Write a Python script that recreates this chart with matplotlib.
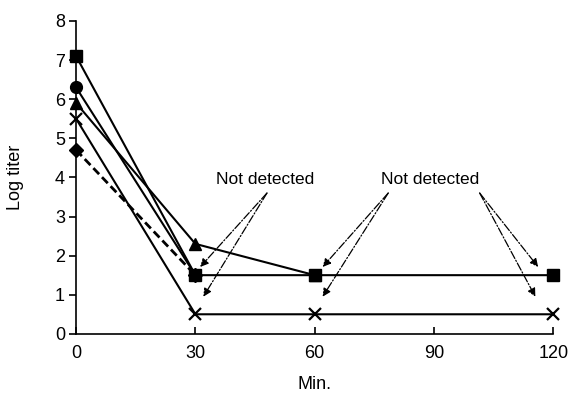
import matplotlib.pyplot as plt

plt.rcParams['font.family'] = ['Liberation Sans', 'DejaVu Sans']

# time points (min) and log titers per series
t_square = [0, 30, 60, 120]
v_square = [7.1, 1.5, 1.5, 1.5]
t_circle = [0, 30]
v_circle = [6.3, 1.5]
t_triangle = [0, 30, 60]
v_triangle = [5.9, 2.3, 1.5]
t_cross = [0, 30, 60, 120]
v_cross = [5.5, 0.5, 0.5, 0.5]
t_diamond = [0, 30]
v_diamond = [4.7, 1.5]

x_ticks = [0, 30, 60, 90, 120]
y_ticks = [0, 1, 2, 3, 4, 5, 6, 7, 8]

fig = plt.figure(figsize=(5.68, 3.96), dpi=100)
ax = fig.add_axes([0.134, 0.157, 0.840, 0.790])

lw = 1.5
ax.plot(t_square, v_square, color='black', lw=lw, marker='s', markersize=8.5, clip_on=False, zorder=3)
ax.plot(t_circle, v_circle, color='black', lw=lw, marker='o', markersize=8.5, clip_on=False, zorder=3)
ax.plot(t_triangle, v_triangle, color='black', lw=lw, marker='^', markersize=8.5, clip_on=False, zorder=3)
ax.plot(t_cross, v_cross, color='black', lw=lw, marker='x', markersize=8.5, markeredgewidth=1.6,
        clip_on=False, zorder=3)
ax.plot(t_diamond, v_diamond, color='black', lw=2.0, ls=(0, (3, 1.5)), marker='D', markersize=7.5,
        clip_on=False, zorder=3)

ax.set_xlim(0, 120)
ax.set_ylim(0, 8)
ax.set_xticks(x_ticks)
ax.set_yticks(y_ticks)
ax.spines['top'].set_visible(False)
ax.spines['right'].set_visible(False)
ax.spines['left'].set_linewidth(1.2)
ax.spines['bottom'].set_linewidth(1.2)
ax.tick_params(axis='x', direction='in', length=5, width=1.2, labelsize=13, pad=8)
ax.tick_params(axis='y', direction='out', length=5, width=1.2, labelsize=13, pad=3)
ax.set_xlabel('Min.', fontsize=13, labelpad=10)
ax.set_ylabel('Log titer', fontsize=13, labelpad=22)

arrow = dict(arrowstyle='-|>', color='black', lw=0.9, ls='-.', mutation_scale=12, shrinkA=0, shrinkB=0)

ax.text(47.5, 3.95, 'Not detected', ha='center', va='center', fontsize=12.5)
ax.annotate('', xy=(31.2, 1.71), xytext=(48, 3.6), arrowprops=arrow)
ax.annotate('', xy=(32, 0.95), xytext=(48, 3.6), arrowprops=arrow)

ax.text(89, 3.95, 'Not detected', ha='center', va='center', fontsize=12.5)
ax.annotate('', xy=(62, 1.71), xytext=(78.5, 3.6), arrowprops=arrow)
ax.annotate('', xy=(62, 0.95), xytext=(78.5, 3.6), arrowprops=arrow)
ax.annotate('', xy=(116.2, 1.71), xytext=(101.5, 3.6), arrowprops=arrow)
ax.annotate('', xy=(115.5, 0.95), xytext=(101.5, 3.6), arrowprops=arrow)

fig.savefig('out.png', dpi=100)
